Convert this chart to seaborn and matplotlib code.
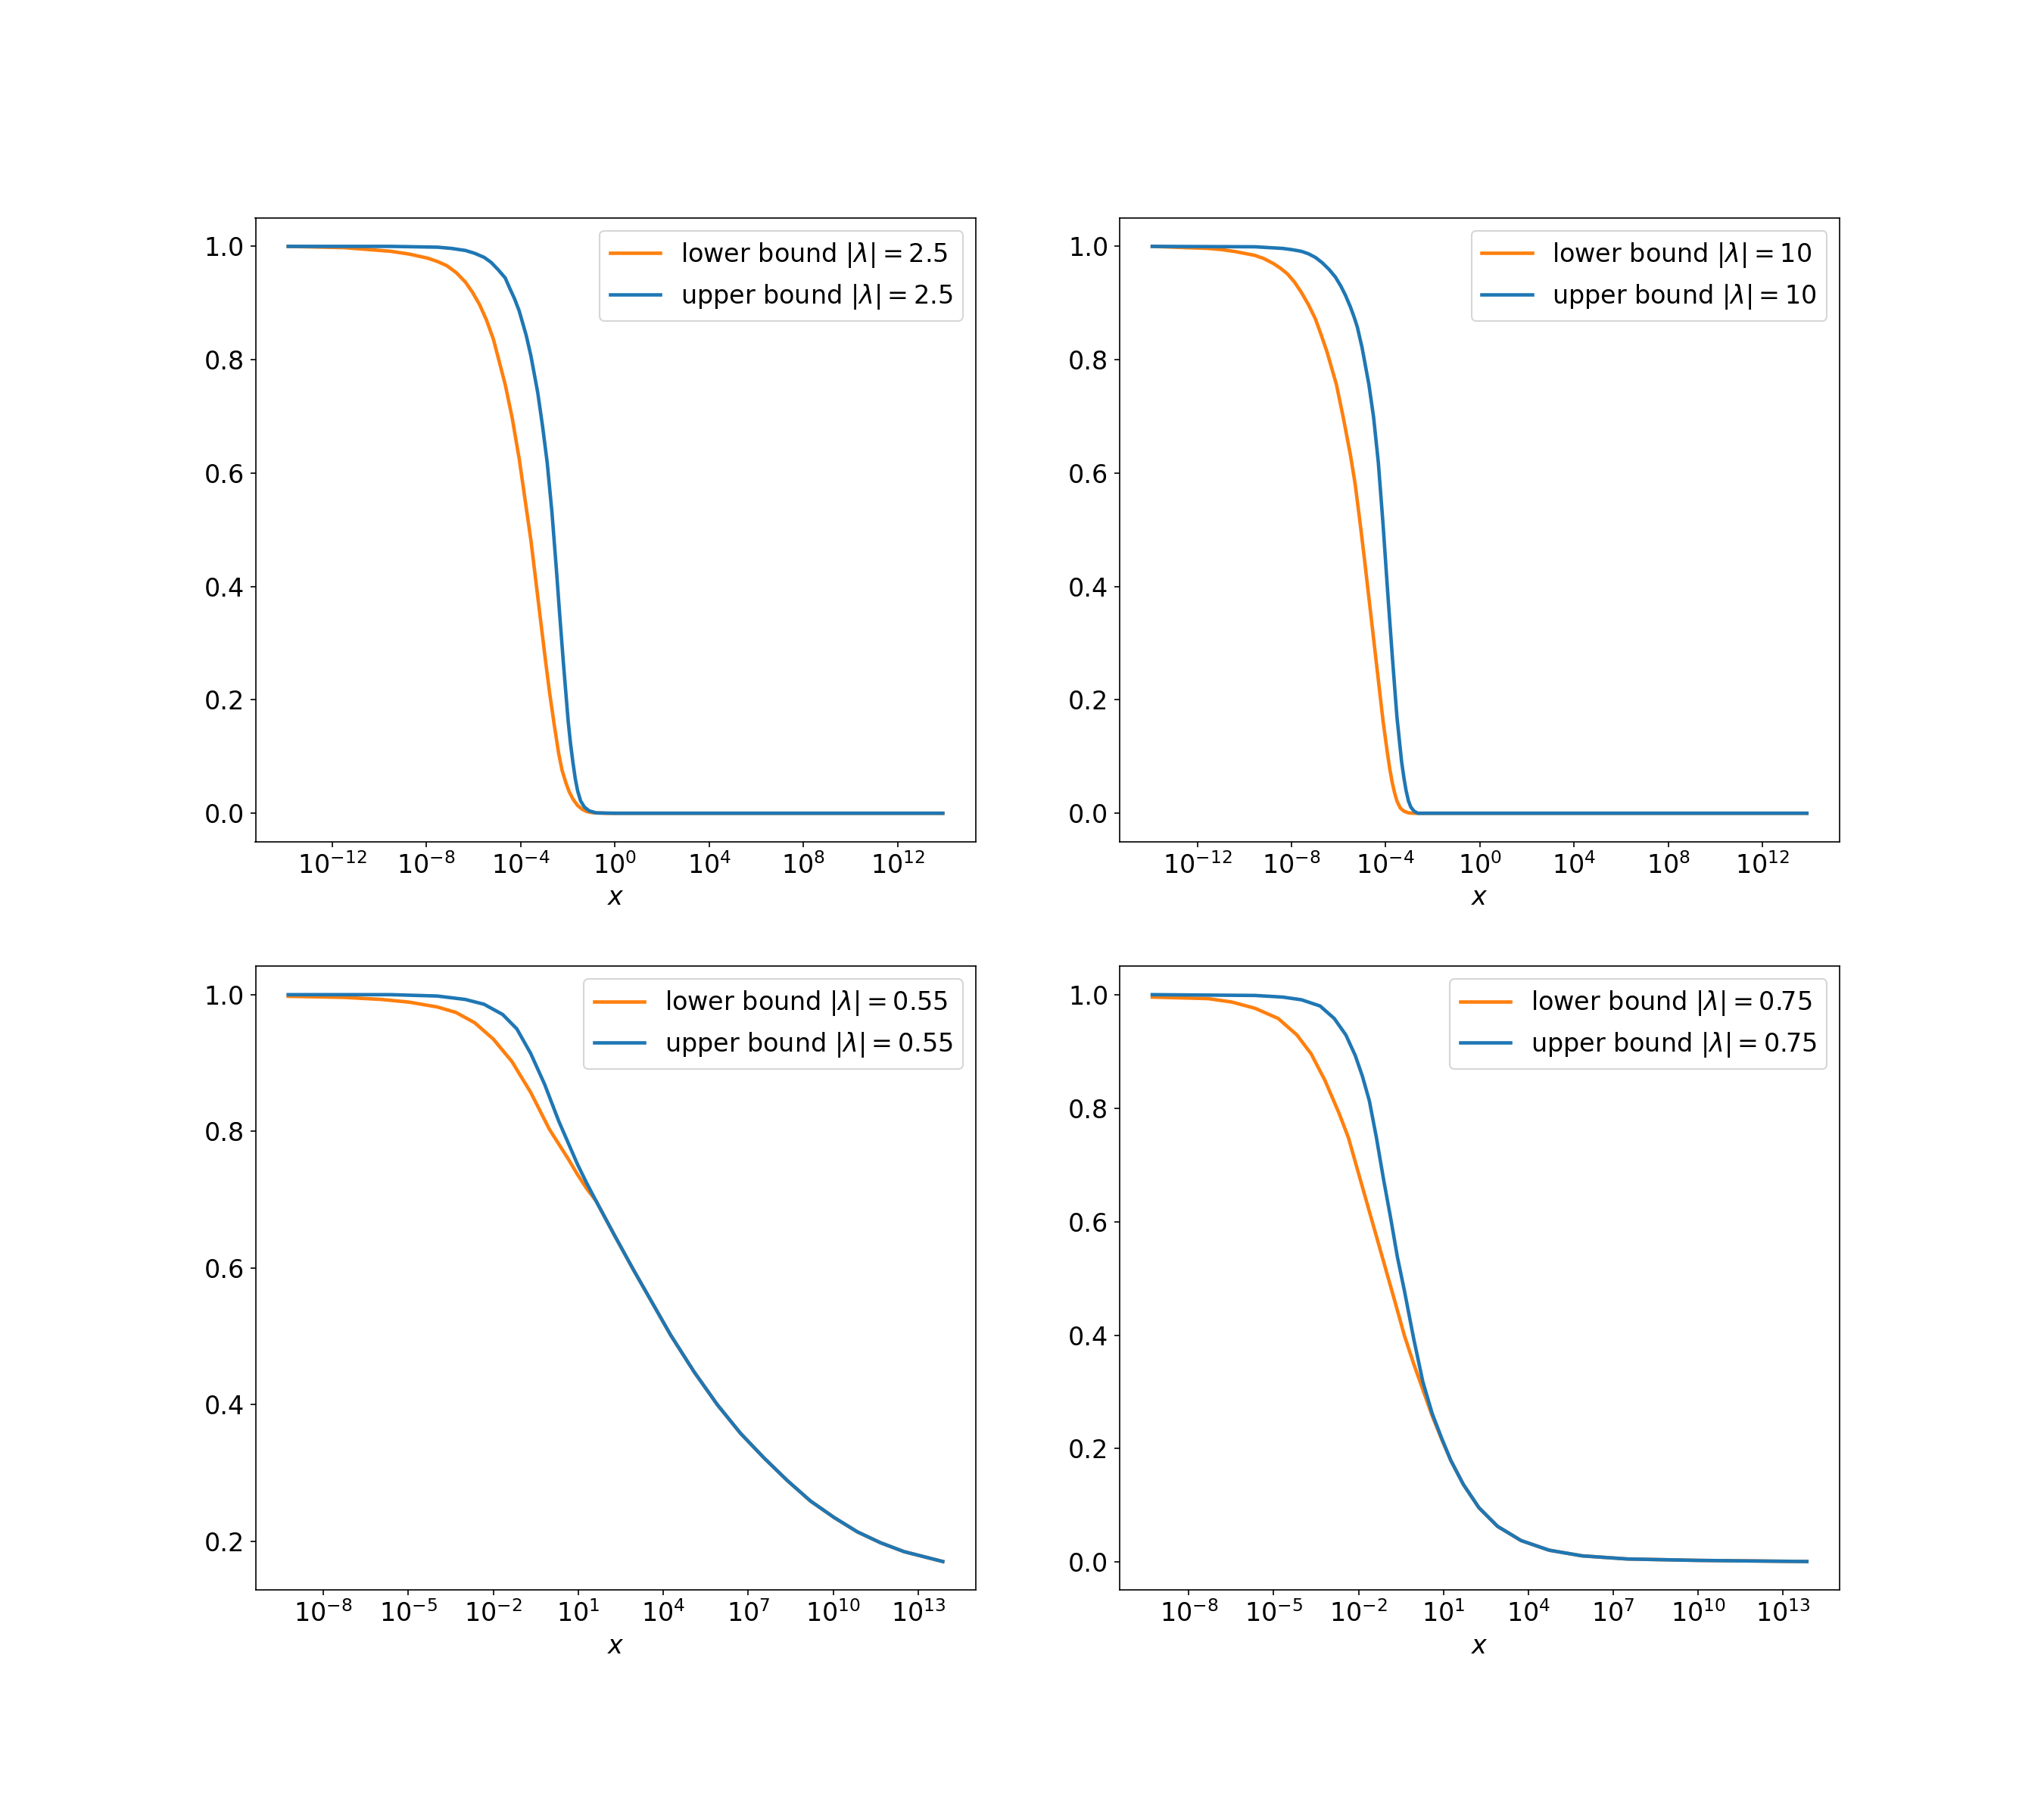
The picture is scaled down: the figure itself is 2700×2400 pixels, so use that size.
import numpy as np
import pandas as pd
import seaborn as sns
import matplotlib.pyplot as plt
from matplotlib.ticker import NullLocator

plt.rcParams['font.family'] = ['DejaVu Sans']
plt.rcParams['font.size'] = 16

ORANGE = '#ff7f0e'
BLUE = '#1f77b4'

# exponents are log10(x)

# ---- |lambda| = 2.5 ----
lo25_exp = [-13.86, -11.49, -9.5, -8.71, -7.92, -7.52, -7.13, -6.73, -6.34, -6.04, -5.74, -5.45,
            -5.15, -4.65, -4.36, -4.06, -3.76, -3.56, -3.37, -3.17, -2.97, -2.77, -2.57, -2.38,
            -2.24, -2.08, -1.94, -1.78, -1.58, -1.39, -1.19, -0.89, -0.4, 13.92]
lo25 = [1.0, 0.9978, 0.9913, 0.9863, 0.979, 0.9732, 0.966, 0.9537, 0.937, 0.919, 0.8973, 0.8705,
        0.8358, 0.7561, 0.6983, 0.6259, 0.5391, 0.4812, 0.4161, 0.3473, 0.2786, 0.2134, 0.1556, 0.1049,
        0.076, 0.0543, 0.0383, 0.0253, 0.0137, 0.0072, 0.0029, 0.0007, 0.0, 0.0]
up25_exp = [-13.86, -9.5, -7.52, -6.93, -6.34, -5.94, -5.54, -5.25, -4.95, -4.65, -4.46, -4.26,
            -4.06, -3.76, -3.56, -3.27, -3.07, -2.87, -2.67, -2.48, -2.34, -2.18, -1.98, -1.88,
            -1.78, -1.68, -1.58, -1.45, -1.29, -1.09, -0.79, 0.0, 13.92]
up25 = [1.0, 1.0, 0.9986, 0.9964, 0.9928, 0.9877, 0.9805, 0.9718, 0.9588, 0.9443, 0.9262, 0.9081,
        0.8864, 0.843, 0.8068, 0.7417, 0.6838, 0.6187, 0.5318, 0.4305, 0.3509, 0.2641, 0.1628, 0.123,
        0.0904, 0.0615, 0.0398, 0.0217, 0.0109, 0.0043, 0.0007, 0.0, 0.0]

# ---- |lambda| = 10 ----
lo10_exp = [-13.91, -11.53, -10.94, -10.35, -9.55, -9.16, -8.76, -8.47, -8.17, -7.87, -7.58, -7.28,
            -6.98, -6.73, -6.49, -6.09, -5.8, -5.5, -5.3, -5.1, -4.91, -4.71, -4.51, -4.31,
            -4.11, -3.92, -3.82, -3.72, -3.62, -3.52, -3.38, -3.22, -3.03, -2.83, 13.89]
lo10 = [1.0, 0.9964, 0.9942, 0.9906, 0.9841, 0.9783, 0.9696, 0.9616, 0.9515, 0.937, 0.919, 0.8973,
        0.8719, 0.843, 0.814, 0.7562, 0.6983, 0.6331, 0.5825, 0.5174, 0.4522, 0.3799, 0.3075, 0.2352,
        0.1628, 0.1049, 0.0774, 0.0543, 0.0362, 0.0217, 0.0094, 0.0036, 0.0007, 0.0, 0.0]
up10_exp = [-13.91, -9.55, -8.37, -7.97, -7.58, -7.28, -6.98, -6.69, -6.39, -6.13, -5.9, -5.7,
            -5.5, -5.34, -5.2, -5.0, -4.71, -4.51, -4.31, -4.11, -3.92, -3.72, -3.52, -3.32,
            -3.22, -3.13, -3.03, -2.93, -2.79, -2.63, 13.89]
up10 = [1.0, 0.9993, 0.9964, 0.9942, 0.9913, 0.987, 0.9805, 0.9711, 0.9588, 0.9457, 0.9298, 0.9132,
        0.8936, 0.8755, 0.8574, 0.8213, 0.7562, 0.6983, 0.6187, 0.5101, 0.3944, 0.2786, 0.17, 0.0904,
        0.0615, 0.0398, 0.0217, 0.0109, 0.0036, 0.0, 0.0]

# ---- |lambda| = 0.55 ----
lo055_exp = [-9.24, -7.27, -5.95, -4.96, -3.98, -3.32, -2.66, -2.0, -1.34, -0.68, -0.02, 0.64,
             0.97, 1.3, 1.63, 2.29, 2.94, 3.6, 4.26, 5.09, 5.91, 6.73, 7.56, 8.38, 9.2, 10.03,
             10.85, 11.67, 12.5, 13.87]
lo055 = [0.9976, 0.996, 0.993, 0.989, 0.982, 0.974, 0.959, 0.935, 0.902, 0.857, 0.803, 0.76,
         0.737, 0.716, 0.698, 0.647, 0.598, 0.55, 0.502, 0.448, 0.4, 0.358, 0.322, 0.289, 0.259,
         0.235, 0.214, 0.198, 0.185, 0.1705]
up055_exp = [-9.24, -5.62, -3.98, -2.99, -2.33, -1.67, -1.17, -0.68, -0.19, 0.31, 0.97, 1.3,
             1.63, 2.29, 2.94, 3.6, 4.26, 5.09, 5.91, 6.73, 7.56, 8.38, 9.2, 10.03, 10.85,
             11.67, 12.5, 13.87]
up055 = [1.0, 1.0, 0.998, 0.993, 0.986, 0.971, 0.95, 0.914, 0.869, 0.815, 0.752, 0.724,
         0.698, 0.647, 0.598, 0.55, 0.502, 0.448, 0.4, 0.358, 0.322, 0.289, 0.259, 0.235, 0.214,
         0.198, 0.185, 0.1705]

# ---- |lambda| = 0.75 ----
lo075_exp = [-9.29, -7.31, -6.48, -5.66, -4.84, -4.18, -3.68, -3.19, -2.69, -2.36, -2.03, -1.7,
             -1.37, -1.04, -0.71, -0.38, -0.05, 0.27, 0.6, 0.93, 1.26, 1.7, 2.25, 2.91, 3.41,
             3.74, 4.73, 5.9, 7.5, 10.0, 13.84]
lo075 = [0.9957, 0.993, 0.987, 0.976, 0.958, 0.929, 0.896, 0.849, 0.791, 0.748, 0.69, 0.632,
         0.574, 0.516, 0.458, 0.399, 0.349, 0.304, 0.258, 0.217, 0.179, 0.137, 0.096, 0.063, 0.048,
         0.038, 0.021, 0.011, 0.0055, 0.003, 0.001]
up075_exp = [-9.29, -5.66, -4.68, -4.02, -3.36, -2.86, -2.45, -2.12, -1.87, -1.62, -1.37, -1.12,
             -0.88, -0.63, -0.38, -0.05, 0.27, 0.6, 0.93, 1.26, 1.7, 2.25, 2.91, 3.41, 3.74,
             4.73, 5.9, 7.5, 10.0, 13.84]
up075 = [1.0, 0.9986, 0.9957, 0.991, 0.98, 0.958, 0.929, 0.893, 0.857, 0.813, 0.748, 0.675,
         0.61, 0.538, 0.478, 0.393, 0.318, 0.262, 0.219, 0.179, 0.137, 0.096, 0.063, 0.048, 0.038,
         0.021, 0.011, 0.0055, 0.003, 0.001]

ticks_wide = [1e-12, 1e-8, 1e-4, 1e0, 1e4, 1e8, 1e12]
ticks_narrow = [1e-8, 1e-5, 1e-2, 1e1, 1e4, 1e7, 1e10, 1e13]

panels = [
    ('2.5', lo25_exp, lo25, up25_exp, up25, ticks_wide),
    ('10', lo10_exp, lo10, up10_exp, up10, ticks_wide),
    ('0.55', lo055_exp, lo055, up055_exp, up055, ticks_narrow),
    ('0.75', lo075_exp, lo075, up075_exp, up075, ticks_narrow),
]

fig, axes = plt.subplots(2, 2, figsize=(18, 16))
fig.subplots_adjust(left=0.125, right=0.9, bottom=0.125, top=0.88, wspace=0.2, hspace=0.2)

for ax, (lam, lx, ly, ux, uy, ticks) in zip(axes.flat, panels):
    lo = pd.DataFrame({'x': np.power(10.0, lx), 'y': ly})
    up = pd.DataFrame({'x': np.power(10.0, ux), 'y': uy})
    sns.lineplot(data=lo, x='x', y='y', ax=ax, color=ORANGE, linewidth=2.2,
                 label=r'lower bound $|\lambda| = ' + lam + '$')
    sns.lineplot(data=up, x='x', y='y', ax=ax, color=BLUE, linewidth=2.2,
                 label=r'upper bound $|\lambda| = ' + lam + '$')
    ax.set_xscale('log')
    ax.set_xticks(ticks)
    ax.xaxis.set_minor_locator(NullLocator())
    ax.set_xlabel(r'$x$')
    ax.set_ylabel('')
    ax.legend(loc='upper right')

fig.savefig('out.png', dpi=150)
